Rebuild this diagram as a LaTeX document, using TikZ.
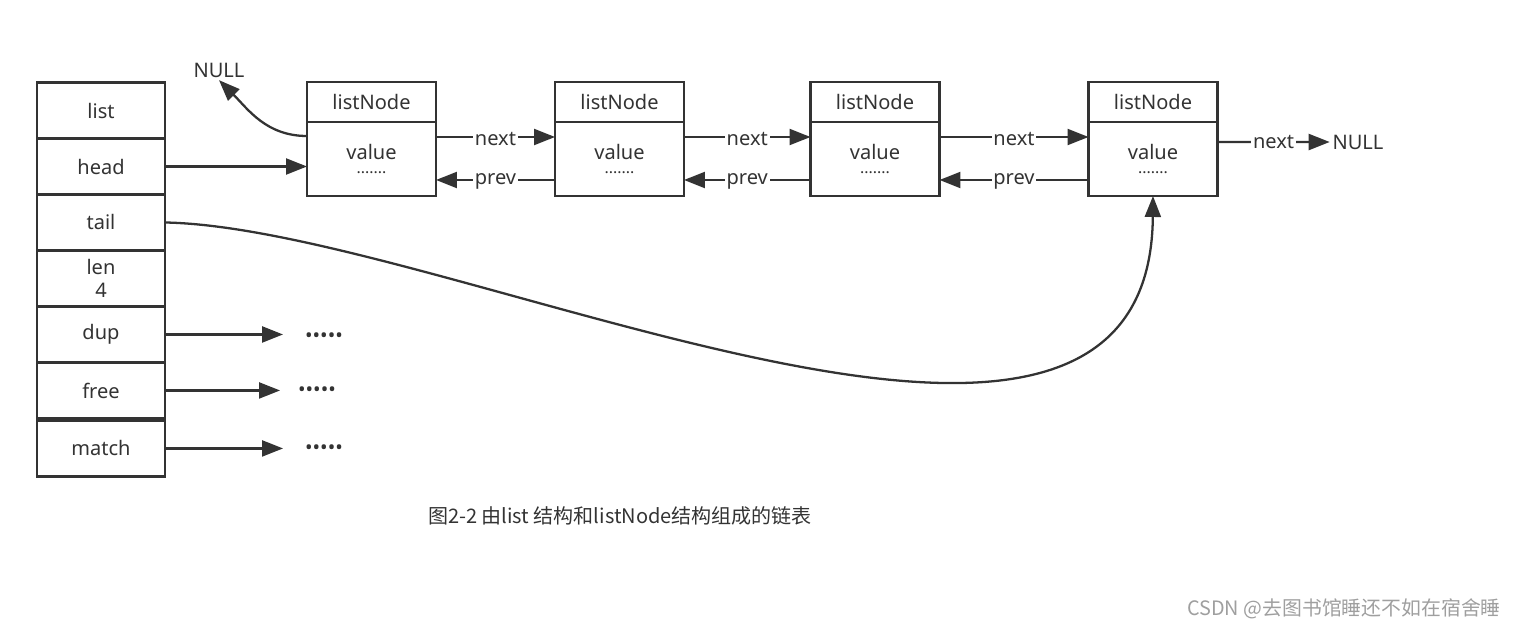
\documentclass[tikz,border=0pt]{standalone}
\usepackage{fontspec}
\setmainfont{Noto Sans}
\newfontfamily\cjk{Noto Sans CJK SC}
\usetikzlibrary{positioning, arrows.meta}
\definecolor{ink}{HTML}{333333}

\begin{document}
\begin{tikzpicture}[x=0.02cm, y=-0.02cm, color=ink, line width=1.3pt,
  font=\fontsize{11.4}{13}\selectfont,
  field/.style={draw, minimum width=2.56cm, minimum height=1.12cm, outer sep=0pt, align=center},
  namebox/.style={draw, minimum width=2.58cm, minimum height=0.8cm, outer sep=0pt},
  valbox/.style={draw, minimum width=2.58cm, minimum height=1.48cm, outer sep=0pt, align=center},
  ptr/.style={-{Triangle[length=0.42cm, width=0.32cm]}},
  lbl/.style={fill=white, inner sep=1pt}]
\useasboundingbox (0,0) rectangle (1515,630);

% list structure
\node (list) [field] at (101,110.5) {list};
\node (head) [field, below=0pt of list] {head};
\node (tail) [field, below=0pt of head] {tail};
\node (len) [field, below=0pt of tail] {len\\4};
\node (dup) [field, below=0pt of len] {dup};
\node (free) [field, below=0pt of dup] {free};
\node (match) [field, below=0.04cm of free] {match};

% listNode structures
\foreach \i/\x in {1/371.5, 2/619.5, 3/875, 4/1153} {
  \node (t\i) [namebox] at (\x,102) {listNode};
  \node (v\i) [valbox, below=0pt of t\i] {value\\[-5pt]{\small .......}};
}
\foreach \a/\b in {1/2, 2/3, 3/4} {
  \draw[ptr] ([yshift=0.44cm]v\a.east) -- node[lbl, yshift=-1pt] {next} ([yshift=0.44cm]v\b.west);
  \draw[ptr] ([yshift=-0.42cm]v\b.west) -- node[lbl, yshift=-1pt] {prev} ([yshift=-0.42cm]v\a.east);
}

\node (null1) [inner sep=1pt] at (219,70) {NULL};
\node (null2) [inner sep=1pt] at (1358,142) {NULL};
\draw[ptr] ([yshift=0.46cm]v1.west) to[out=180, in=-45] (null1.south);
\draw[ptr] ([yshift=0.34cm]v4.east) -- node[lbl] {next} (null2.west);

\draw[ptr] (head.east) -- (head.east -| v1.west);
\draw[ptr] (tail.east) .. controls (450,228) and (1150,585) .. (v4.south);

% function pointers
\node (d1) [inner sep=0pt] at (324,338) {•••••};
\node (d2) [inner sep=0pt] at (317,392) {•••••};
\node (d3) [inner sep=0pt] at (324,450) {•••••};
\draw[ptr, shorten >=0.42cm] (dup.east) -- (dup.east -| d1.west);
\draw[ptr, shorten >=0.34cm] (free.east) -- (free.east -| d2.west);
\draw[ptr, shorten >=0.42cm] (match.east) -- (match.east -| d3.west);

\node (cap) at (620,516) {\cjk 图2-2 由list 结构和listNode结构组成的链表};
\node (mark) [text=gray!75, font=\fontsize{11.3}{13}\selectfont] at (1344,609) {\cjk CSDN @去图书馆睡还不如在宿舍睡};
\end{tikzpicture}
\end{document}
